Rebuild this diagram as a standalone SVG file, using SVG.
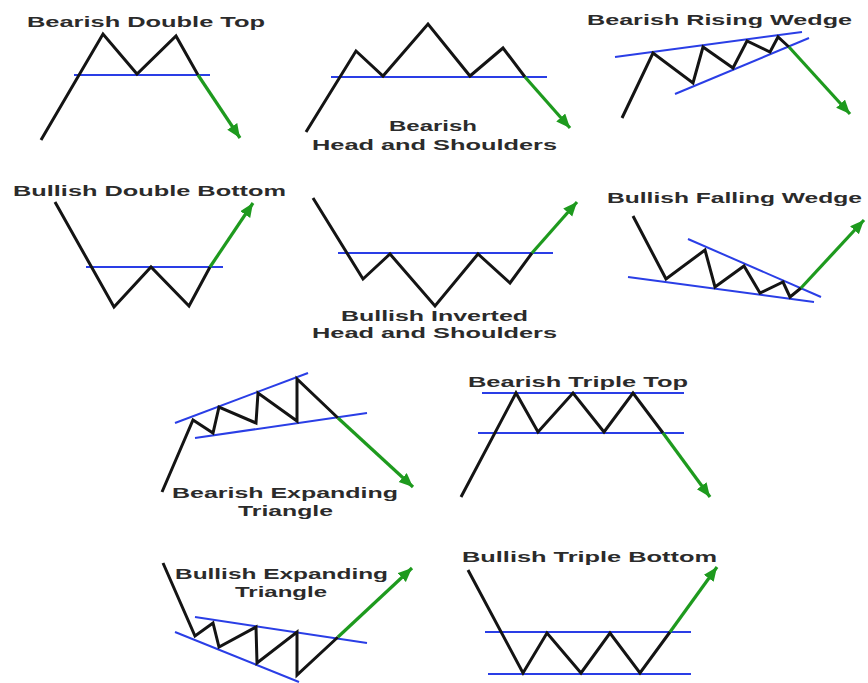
<svg xmlns="http://www.w3.org/2000/svg" width="868" height="683" viewBox="0 0 868 683">
<defs>
<marker id="ah" markerUnits="userSpaceOnUse" markerWidth="16" markerHeight="14" refX="14" refY="6" orient="auto">
<path d="M0,0 L14,6 L0,12 Z" fill="#1e9a1e"/>
</marker>
<style>
.p{fill:none;stroke:#141414;stroke-width:3;stroke-linejoin:miter}
.b{fill:none;stroke:#2a3ee6;stroke-width:2}
.g{fill:none;stroke:#1e9a1e;stroke-width:3.2;marker-end:url(#ah)}
.t{font-family:"Liberation Sans",Arial,sans-serif;font-weight:bold;font-size:15px;fill:#2b2b2b;text-anchor:middle}
</style>
</defs>
<rect width="868" height="683" fill="#ffffff"/>

<g id="bearish-double-top">
<line class="b" x1="74" y1="75" x2="210" y2="75"/>
<polyline class="p" points="41,140 103,34 137,74 176,36 198,75"/>
<line class="g" x1="198" y1="75" x2="240" y2="138"/>
<text class="t" x="146" y="27" textLength="238" lengthAdjust="spacingAndGlyphs">Bearish Double Top</text>
</g>

<g id="bearish-head-and-shoulders">
<line class="b" x1="331" y1="77" x2="547" y2="77"/>
<polyline class="p" points="306,132 356,51 383,76 428,24 470,76 503,48 525,77"/>
<line class="g" x1="525" y1="77" x2="570" y2="128"/>
<text class="t" x="433" y="131" textLength="88" lengthAdjust="spacingAndGlyphs">Bearish</text>
<text class="t" x="434.5" y="150" textLength="245" lengthAdjust="spacingAndGlyphs">Head and Shoulders</text>
</g>

<g id="bearish-rising-wedge">
<line class="b" x1="615" y1="57" x2="802" y2="32"/>
<line class="b" x1="675" y1="94" x2="809" y2="38"/>
<polyline class="p" points="622,118 653,53 693,83 703,47 733,68 747,41 770,52 778,37 789,47"/>
<line class="g" x1="789" y1="47" x2="850" y2="114"/>
<text class="t" x="719.5" y="25" textLength="265" lengthAdjust="spacingAndGlyphs">Bearish Rising Wedge</text>
</g>

<g id="bullish-double-bottom">
<line class="b" x1="86" y1="267" x2="223" y2="267"/>
<polyline class="p" points="55,202 114,307 151,267 189,306 210,267"/>
<line class="g" x1="210" y1="267" x2="253" y2="203"/>
<text class="t" x="149.5" y="196" textLength="273" lengthAdjust="spacingAndGlyphs">Bullish Double Bottom</text>
</g>

<g id="bullish-inverted-head-and-shoulders">
<line class="b" x1="338" y1="253" x2="553" y2="253"/>
<polyline class="p" points="313,198 363,279 390,254 435,306 478,254 510,283 532,253"/>
<line class="g" x1="532" y1="253" x2="577" y2="202"/>
<text class="t" x="434.5" y="321" textLength="187" lengthAdjust="spacingAndGlyphs">Bullish Inverted</text>
<text class="t" x="434.5" y="338" textLength="245" lengthAdjust="spacingAndGlyphs">Head and Shoulders</text>
</g>

<g id="bullish-falling-wedge">
<line class="b" x1="688" y1="239" x2="821" y2="297"/>
<line class="b" x1="628" y1="277" x2="814" y2="302"/>
<polyline class="p" points="633,216 666,279 705,250 715,287 744,266 760,293 783,282 790,297 801,288"/>
<line class="g" x1="801" y1="288" x2="864" y2="220"/>
<text class="t" x="734.5" y="203" textLength="255" lengthAdjust="spacingAndGlyphs">Bullish Falling Wedge</text>
</g>

<g id="bearish-expanding-triangle">
<line class="b" x1="175" y1="423" x2="308" y2="373"/>
<line class="b" x1="195" y1="438" x2="367" y2="413"/>
<polyline class="p" points="162,492 193,420 213,433 219,407 256,423 258,393 297,421 297,379 338,418"/>
<line class="g" x1="338" y1="418" x2="413" y2="487"/>
<text class="t" x="285" y="498" textLength="226" lengthAdjust="spacingAndGlyphs">Bearish Expanding</text>
<text class="t" x="285.5" y="516" textLength="95" lengthAdjust="spacingAndGlyphs">Triangle</text>
</g>

<g id="bearish-triple-top">
<line class="b" x1="482" y1="393" x2="684" y2="393"/>
<line class="b" x1="478" y1="433" x2="684" y2="433"/>
<polyline class="p" points="461,497 516,393 538,432 573,393 604,432 633,393 663,433"/>
<line class="g" x1="663" y1="433" x2="710" y2="497"/>
<text class="t" x="578" y="387" textLength="220" lengthAdjust="spacingAndGlyphs">Bearish Triple Top</text>
</g>

<g id="bullish-expanding-triangle">
<line class="b" x1="195" y1="617" x2="367" y2="643"/>
<line class="b" x1="175" y1="632" x2="299" y2="682"/>
<polyline class="p" points="163,563 195,636 213,623 219,647 256,627 257,663 297,632 297,675 338,637"/>
<line class="g" x1="338" y1="637" x2="412" y2="568"/>
<text class="t" x="281.5" y="579" textLength="213" lengthAdjust="spacingAndGlyphs">Bullish Expanding</text>
<text class="t" x="281" y="597" textLength="92" lengthAdjust="spacingAndGlyphs">Triangle</text>
</g>

<g id="bullish-triple-bottom">
<line class="b" x1="485" y1="632" x2="691" y2="632"/>
<line class="b" x1="488" y1="674" x2="691" y2="674"/>
<polyline class="p" points="468,570 523,673 547,633 581,673 610,633 640,673 670,632"/>
<line class="g" x1="670" y1="632" x2="717" y2="567"/>
<text class="t" x="589.5" y="562" textLength="255" lengthAdjust="spacingAndGlyphs">Bullish Triple Bottom</text>
</g>
</svg>
